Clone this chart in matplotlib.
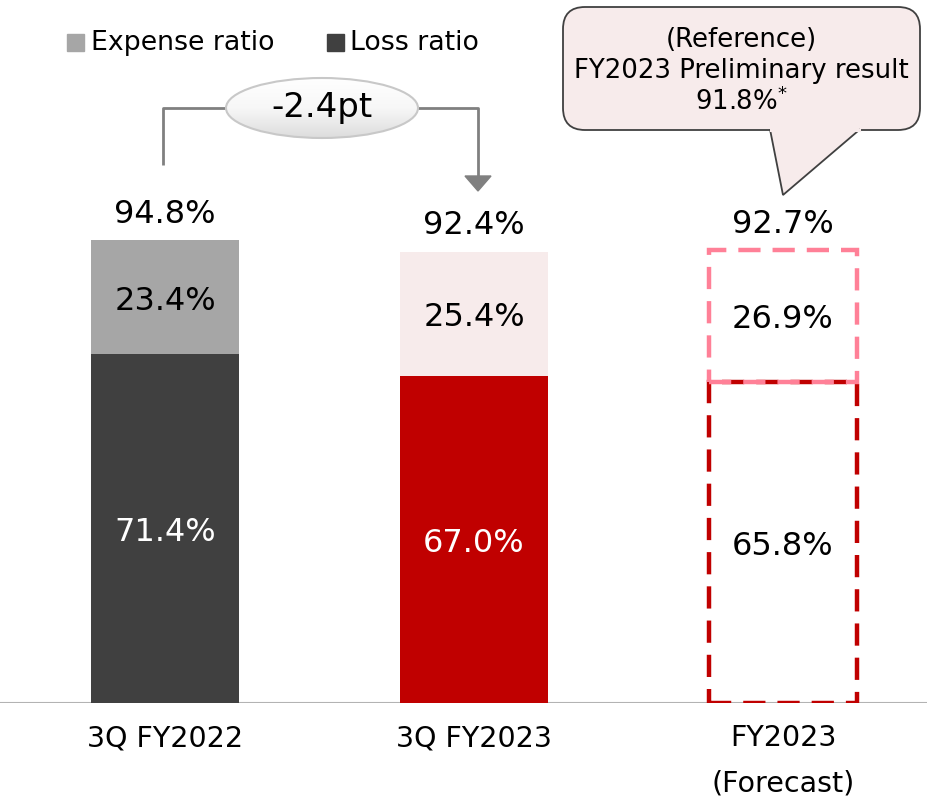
import numpy as np
import matplotlib
matplotlib.use("Agg")
from matplotlib import pyplot as plt
from matplotlib.patches import Ellipse, FancyBboxPatch, Polygon, Rectangle

# ratios by period
categories = ["3Q FY2022", "3Q FY2023", "FY2023\n(Forecast)"]
loss_ratio = [71.4, 67.0, 65.8]
expense_ratio = [23.4, 25.4, 26.9]
combined = [94.8, 92.4, 92.7]
diff_label = "-2.4pt"
callout_lines = ["(Reference)", "FY2023 Preliminary result", "91.8%$^{*}$"]

plt.rcParams['font.family'] = ['DejaVu Sans']

W, H = 927, 802
fig = plt.figure(figsize=(W / 100, H / 100), dpi=100)
base_px = 99
ax = fig.add_axes([0, base_px / H, 1, 1 - base_px / H])
ppu = 4.884  # pixels per percentage point
ax.set_ylim(0, (H - base_px) / ppu)
step = 309
x0 = 165
ax.set_xlim(-x0 / step, (W - x0) / step)
bw = 148 / step
ax.axis("off")

x = np.arange(len(categories))
loss_fill = ["#404040", "#c00000", "none"]
exp_fill = ["#a6a6a6", "#f7ebeb", "none"]
for i in range(2):
    ax.bar(x[i], loss_ratio[i], bw, color=loss_fill[i], zorder=2)
    ax.bar(x[i], expense_ratio[i], bw, bottom=loss_ratio[i], color=exp_fill[i], zorder=2)
# forecast: dashed outlines
ax.bar(x[2], loss_ratio[2], bw, fill=False, edgecolor="#c00000", lw=3.2,
       linestyle=(0, (5, 2.7)), zorder=3)
ax.bar(x[2], expense_ratio[2], bw, bottom=loss_ratio[2], fill=False,
       edgecolor="#ff8097", lw=3.2, linestyle=(0, (5, 2.7)), zorder=4)

loss_txt = ["white", "white", "black"]
for i in range(3):
    ax.text(x[i], loss_ratio[i] / 2 - 0.8, f"{loss_ratio[i]:.1f}%", ha="center", va="center",
            fontsize=23, color=loss_txt[i], zorder=5)
    ax.text(x[i], loss_ratio[i] + expense_ratio[i] / 2 - 0.8, f"{expense_ratio[i]:.1f}%",
            ha="center", va="center", fontsize=23, color="black", zorder=5)
    ax.text(x[i], combined[i] + 5.3, f"{combined[i]:.1f}%", ha="center", va="center",
            fontsize=23, color="black", zorder=5)

# baseline
ax.axhline(0, color="#b3b3b3", lw=1.5, zorder=1)

# category labels
for i, c in enumerate(categories):
    for j, line in enumerate(c.split("\n")):
        ax.text(x[i], -7.2 - j * 9.2, line, ha="center", va="center", fontsize=20.5)

# overlay in pixel coordinates
ov = fig.add_axes([0, 0, 1, 1], zorder=10)
ov.axis("off")
ov.patch.set_alpha(0)

# legend
ov.add_patch(Rectangle((67, 34), 17, 17, color="#a6a6a6"))
ov.text(91, 43, "Expense ratio", fontsize=19.3, va="center", ha="left")
ov.add_patch(Rectangle((327, 34), 17, 17, color="#404040"))
ov.text(350, 43, "Loss ratio", fontsize=19.3, va="center", ha="left")

# bracket with difference
gray = "#808080"
ov.plot([163, 163, 232], [165, 108, 108], color=gray, lw=2, solid_capstyle="butt")
ov.plot([412, 478, 478], [108, 108, 178], color=gray, lw=2, solid_capstyle="butt")
ov.add_patch(Polygon([[465, 176], [491, 176], [478, 191]], closed=True, color=gray))
ell = Ellipse((322, 108), 192, 60, facecolor="none", edgecolor="#c8c8c8", lw=1.5, zorder=3)
ov.add_patch(ell)
grad = np.linspace(0, 1, 100).reshape(-1, 1)
im = ov.imshow(grad, extent=(226, 418, 139, 77), cmap=plt.matplotlib.colors.LinearSegmentedColormap.from_list(
    "g", ["#ffffff", "#f7f7f7", "#dcdcdc"]), aspect="auto", zorder=2)
im.set_clip_path(Ellipse((322, 108), 192, 60, transform=ov.transData))
ov.text(322, 108, diff_label, fontsize=24.5, ha="center", va="center", zorder=4)

# callout bubble
pink = "#f7ebeb"
box = FancyBboxPatch((563, 7), 357, 123, boxstyle="round,pad=0,rounding_size=22",
                     facecolor=pink, edgecolor="#404040", lw=1.3, zorder=2)
ov.add_patch(box)
ov.add_patch(Polygon([[770, 129.3], [783, 195], [860, 129.3]], closed=False,
                     facecolor=pink, edgecolor="#404040", lw=1.3, zorder=3))
ov.plot([771, 859], [130, 130], color=pink, lw=2.2, zorder=4)
for j, line in enumerate(callout_lines):
    ov.text(741, 40 + j * 31, line, fontsize=18.7, ha="center", va="center", zorder=5)

ov.set_xlim(0, W)
ov.set_ylim(H, 0)

fig.savefig("out.png", dpi=100)
